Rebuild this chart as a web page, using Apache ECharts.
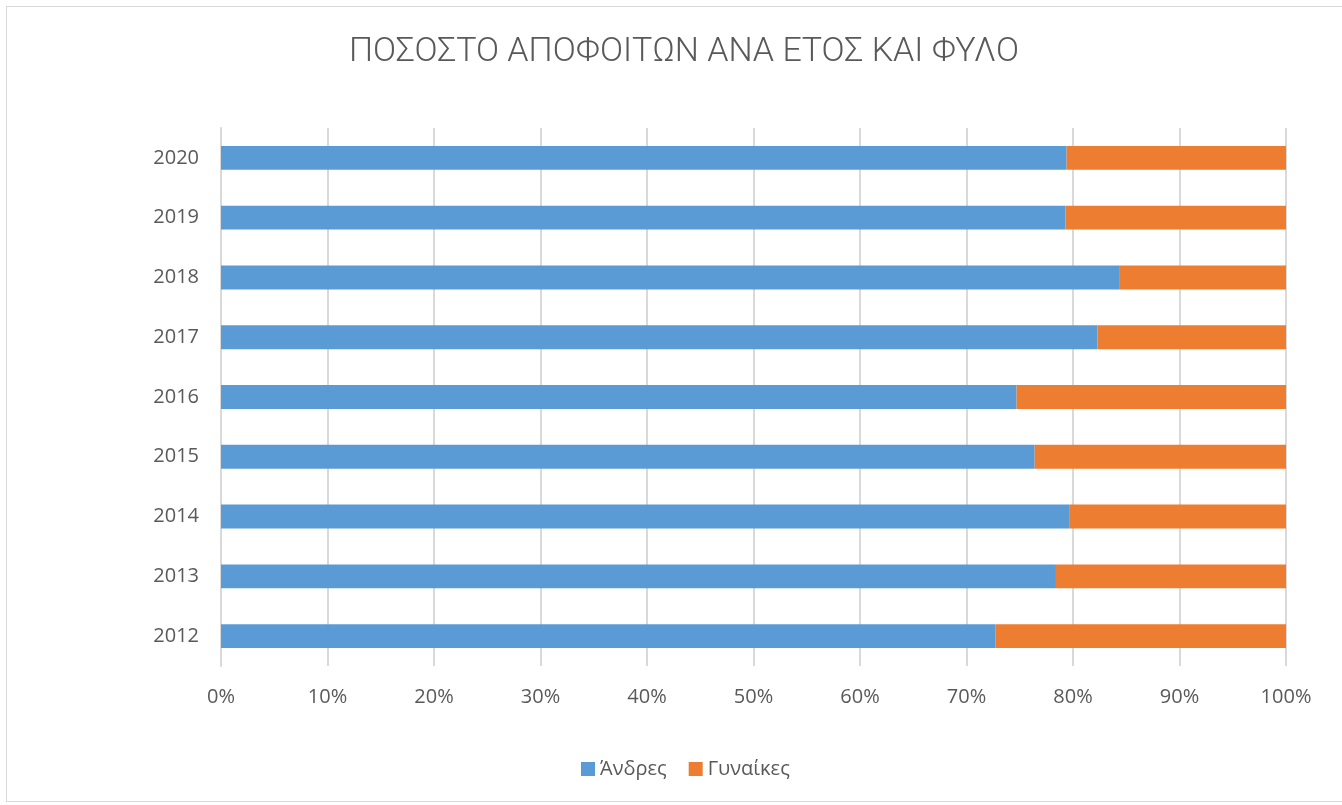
<!DOCTYPE html>
<html lang="el">
<head>
    <meta charset="UTF-8">
    <title>ΠΟΣΟΣΤΟ ΑΠΟΦΟΙΤΩΝ</title>
    <style>
        *{
            margin: 0;
            padding: 0;
        }
        body{
            background: #ffffff;
        }
        #frame{
            position: absolute;
            left: 6px;
            top: 6px;
            width: 1340px;
            height: 796px;
            border: 1px solid #d9d9d9;
            box-sizing: border-box;
        }
        #main{
            position: absolute;
            left: 0;
            top: 0;
            width: 1342px;
            height: 805px;
        }
    </style>
    <script src="https://cdn.jsdelivr.net/npm/echarts@6/dist/echarts.min.js"></script>
</head>
<body>
    <div id="frame"></div>
    <div id="main"></div>
    <script>
        // χρονιές και ποσοστά (%) ανδρών / γυναικών
        var years = ['2012', '2013', '2014', '2015', '2016', '2017', '2018', '2019', '2020'];
        var andres = [72.7, 78.4, 79.7, 76.4, 74.7, 82.3, 84.4, 79.3, 79.4];
        var gynaikes = [];
        for (var i = 0; i < andres.length; i++) {
            gynaikes.push(+(100 - andres[i]).toFixed(1));
        }

        var myChart = echarts.init(document.getElementById('main'));
        var txt = '#595959';

        var option = {
            animation: false,
            title: {
                text: 'ΠΟΣΟΣΤΟ ΑΠΟΦΟΙΤΩΝ ΑΝΑ ΕΤΟΣ ΚΑΙ ΦΥΛΟ',
                left: 344,
                top: 30,
                textStyle: {
                    fontFamily: 'Roboto',
                    fontWeight: 300,
                    fontSize: 34,
                    color: txt
                }
            },
            legend: {
                bottom: 21,
                left: 576,
                itemWidth: 14,
                itemHeight: 14,
                itemGap: 22,
                icon: 'rect',
                textStyle: {
                    fontFamily: 'Open Sans',
                    fontSize: 20,
                    color: txt
                },
                data: ['Άνδρες', 'Γυναίκες']
            },
            grid: {
                left: 221,
                top: 128,
                width: 1065,
                height: 538,
                containLabel: false
            },
            xAxis: {
                type: 'value',
                min: 0,
                max: 100,
                interval: 10,
                axisLine: { show: false },
                axisTick: { show: false },
                splitLine: { lineStyle: { color: '#d9d9d9', width: 2 } },
                axisLabel: {
                    formatter: '{value}%',
                    margin: 21,
                    fontFamily: 'Open Sans',
                    fontSize: 20,
                    color: txt
                }
            },
            yAxis: {
                type: 'category',
                data: years,
                axisLine: { show: true, lineStyle: { color: '#d9d9d9', width: 2 } },
                axisTick: { show: false },
                axisLabel: {
                    margin: 22,
                    fontFamily: 'Open Sans',
                    fontSize: 20,
                    color: txt
                }
            },
            series: [
                {
                    name: 'Άνδρες',
                    type: 'bar',
                    stack: 'total',
                    barCategoryGap: '60%',
                    itemStyle: { color: '#5b9bd5' },
                    data: andres
                },
                {
                    name: 'Γυναίκες',
                    type: 'bar',
                    stack: 'total',
                    barCategoryGap: '60%',
                    itemStyle: { color: '#ed7d31' },
                    data: gynaikes
                }
            ]
        };
        myChart.setOption(option);
    </script>
</body>
</html>
